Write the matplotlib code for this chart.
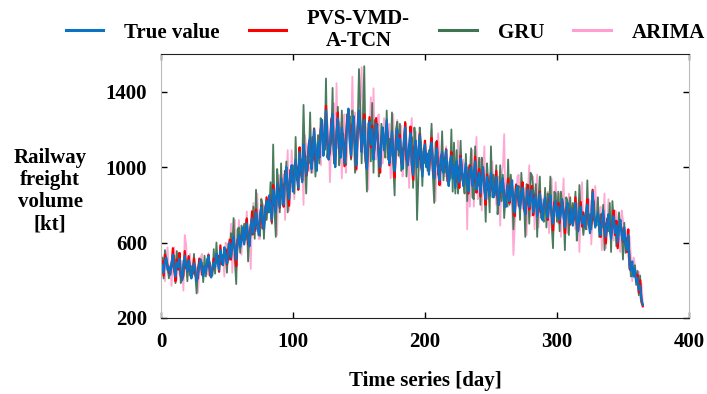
import numpy as np
import matplotlib.pyplot as plt

plt.rcParams['font.family'] = ['Liberation Serif', 'DejaVu Serif']
plt.rcParams['font.weight'] = 'bold'

# daily freight volume [kt] (days 1..365)
true_value = [
    480, 440, 505, 520, 455, 470, 430, 490, 535, 460,
    420, 495, 470, 515, 440, 400, 460, 530, 480, 445,
    505, 470, 410, 445, 490, 460, 395, 430, 480, 510,
    455, 420, 475, 440, 500, 530, 460, 415, 470, 495,
    470, 540, 500, 455, 560, 515, 480, 575, 530, 490,
    545, 600, 520, 585, 630, 560, 510, 590, 640, 575,
    610, 680, 590, 655, 700, 620, 580, 690, 730, 650,
    690, 760, 700, 640, 745, 790, 710, 670, 770, 820,
    760, 850, 790, 720, 880, 830, 760, 910, 850, 790,
    940, 860, 800, 950, 1000, 880, 830, 960, 1010, 870,
    930, 1040, 960, 890, 1080, 1000, 920, 1120, 1030, 960,
    1010, 1110, 1160, 990, 1060, 1200, 1080, 980, 1130, 1050,
    1180, 1250, 1060, 1130, 1300, 1170, 1040, 1100, 1220, 1280,
    1090, 1000, 1180, 1260, 1120, 1050, 1210, 1150, 1020, 1110,
    1230, 1310, 1140, 1060, 1200, 1270, 1100, 1010, 1180, 1300,
    1220, 1080, 1150, 1250, 1050, 990, 1160, 1240, 1120, 1200,
    1040, 1130, 1230, 1170, 1060, 1000, 1140, 1210, 1090, 1150,
    1250, 1130, 1020, 1080, 1190, 1060, 980, 1120, 1200, 1090,
    1150, 1040, 990, 1130, 1210, 1070, 1010, 1110, 1180, 1020,
    960, 1090, 1140, 1000, 1060, 1170, 1040, 950, 1080, 1120,
    1000, 1070, 960, 1090, 1130, 1010, 940, 1050, 1100, 990,
    930, 1040, 1080, 970, 1020, 1090, 960, 900, 1030, 1060,
    940, 1010, 890, 1030, 970, 920, 1050, 990, 900, 960,
    1020, 910, 870, 980, 1000, 900, 960, 1030, 880, 930,
    970, 860, 940, 1000, 880, 830, 950, 900, 850, 970,
    910, 840, 880, 950, 860, 800, 920, 870, 940, 830,
    790, 880, 910, 820, 860, 930, 800, 760, 870, 900,
    820, 780, 860, 890, 800, 750, 840, 880, 790, 830,
    880, 760, 820, 850, 740, 790, 860, 780, 720, 810,
    840, 770, 730, 800, 850, 750, 700, 790, 820, 740,
    790, 720, 760, 830, 740, 680, 770, 810, 730, 700,
    780, 690, 750, 810, 720, 660, 760, 790, 700, 740,
    680, 760, 800, 710, 650, 730, 870, 740, 680, 720,
    760, 690, 640, 720, 770, 680, 630, 700, 750, 670,
    620, 700, 740, 650, 690, 600, 670, 720, 640, 610,
    680, 590, 560, 640, 480, 450, 500, 420, 460, 390,
    410, 350, 370, 300, 270,
]

pvs_tcn = [
    500, 425, 535, 510, 480, 440, 440, 470, 570, 455,
    395, 510, 460, 545, 420, 405, 425, 555, 465, 465,
    525, 455, 440, 435, 515, 430, 405, 410, 515, 505,
    430, 435, 465, 470, 480, 535, 425, 440, 455, 515,
    490, 525, 530, 445, 585, 485, 490, 555, 565, 485,
    520, 615, 510, 615, 610, 565, 475, 615, 625, 595,
    630, 665, 620, 645, 725, 590, 590, 670, 765, 645,
    665, 775, 690, 670, 725, 795, 675, 695, 755, 840,
    780, 835, 820, 710, 905, 800, 770, 890, 885, 785,
    915, 875, 790, 980, 980, 885, 795, 985, 995, 890,
    950, 1025, 990, 880, 1105, 970, 930, 1100, 1065, 955,
    985, 1125, 1150, 1020, 1040, 1205, 1045, 1005, 1115, 1070,
    1200, 1235, 1090, 1120, 1325, 1140, 1050, 1080, 1255, 1275,
    1065, 1015, 1170, 1290, 1100, 1055, 1175, 1175, 1005, 1130,
    1250, 1295, 1170, 1050, 1225, 1240, 1110, 990, 1215, 1295,
    1195, 1095, 1140, 1280, 1030, 995, 1125, 1265, 1105, 1220,
    1060, 1115, 1260, 1160, 1085, 970, 1150, 1190, 1125, 1145,
    1225, 1145, 1010, 1110, 1170, 1065, 945, 1145, 1185, 1110,
    1170, 1025, 1020, 1120, 1235, 1040, 1020, 1090, 1215, 1015,
    935, 1105, 1130, 1030, 1040, 1175, 1005, 975, 1065, 1140,
    1020, 1055, 990, 1080, 1155, 980, 950, 1030, 1135, 985,
    905, 1055, 1070, 1000, 1000, 1095, 925, 925, 1015, 1080,
    960, 995, 920, 1020, 995, 890, 1060, 970, 935, 955,
    995, 925, 860, 1010, 980, 905, 925, 1055, 865, 950,
    990, 845, 970, 990, 905, 800, 960, 880, 885, 965,
    885, 855, 870, 980, 840, 805, 885, 895, 925, 850,
    810, 865, 940, 810, 885, 900, 810, 740, 905, 895,
    795, 795, 850, 920, 780, 755, 805, 905, 775, 850,
    900, 745, 850, 840, 765, 760, 870, 760, 755, 805,
    815, 785, 720, 830, 830, 755, 665, 815, 805, 760,
    810, 705, 790, 820, 765, 650, 780, 790, 765, 695,
    755, 705, 740, 840, 700, 665, 725, 815, 685, 760,
    700, 745, 830, 700, 675, 700, 880, 720, 715, 715,
    735, 705, 630, 750, 750, 685, 595, 725, 735, 690,
    640, 685, 770, 640, 715, 570, 680, 700, 675, 605,
    655, 605, 550, 670, 460, 455, 465, 445, 445, 410,
    430, 335, 400, 290, 262,
]

gru = [
    520, 410, 560, 500, 470, 410, 465, 495, 490, 530,
    385, 555, 455, 545, 385, 420, 505, 505, 490, 395,
    530, 425, 475, 435, 540, 430, 330, 470, 500, 495,
    495, 390, 530, 420, 515, 470, 495, 420, 425, 565,
    435, 600, 485, 485, 505, 535, 525, 550, 540, 440,
    595, 510, 650, 565, 730, 500, 380, 670, 680, 545,
    690, 620, 700, 615, 730, 500, 650, 700, 640, 790,
    620, 880, 670, 700, 635, 830, 800, 620, 790, 720,
    810, 760, 920, 700, 1120, 770, 630, 990, 890, 760,
    1020, 800, 910, 910, 1030, 760, 900, 970, 920, 1010,
    860, 1160, 930, 950, 970, 1040, 1010, 1330, 1050, 860,
    1060, 1020, 1290, 970, 1160, 1140, 950, 1060, 1170, 1020,
    1260, 1190, 1170, 1090, 1470, 1050, 1110, 1110, 1130, 1420,
    1020, 1120, 1150, 1320, 1010, 1090, 1300, 1100, 1040, 1010,
    1280, 1220, 1270, 1040, 1300, 1210, 970, 1090, 1220, 1520,
    1300, 1020, 1260, 1535, 1080, 870, 1230, 1250, 1030, 1340,
    970, 1250, 1200, 1230, 950, 1040, 1230, 1160, 1110, 1050,
    1300, 1040, 1150, 1060, 1290, 1000, 850, 1200, 1240, 1060,
    1230, 980, 1100, 1090, 1240, 950, 1080, 1120, 1090, 1160,
    890, 1210, 1110, 720, 950, 1210, 1130, 900, 1100, 1020,
    1050, 980, 1090, 1070, 1230, 950, 810, 1130, 1140, 960,
    1010, 980, 1190, 930, 1050, 970, 1030, 910, 940, 1200,
    870, 1130, 860, 1090, 860, 960, 1140, 940, 920, 860,
    1070, 820, 1000, 960, 1100, 840, 830, 1110, 920, 900,
    1050, 800, 1050, 960, 910, 710, 1020, 910, 760, 1110,
    840, 960, 850, 1010, 750, 840, 1010, 820, 960, 730,
    840, 790, 1040, 800, 960, 870, 670, 840, 910, 870,
    900, 720, 970, 850, 830, 630, 910, 890, 700, 970,
    958, 880, 790, 910, 630, 830, 950, 730, 740, 710,
    890, 680, 860, 780, 950, 690, 570, 870, 860, 710,
    870, 660, 870, 790, 770, 560, 840, 820, 640, 840,
    710, 810, 720, 870, 610, 700, 905, 740, 720, 640,
    730, 670, 930, 690, 750, 670, 740, 820, 720, 690,
    840, 630, 750, 680, 800, 560, 700, 710, 660, 810,
    550, 820, 710, 710, 580, 640, 760, 670, 660, 510,
    705, 545, 625, 630, 530, 420, 435, 460, 480, 375,
    450, 320, 425, 280, 272,
]

arima = [
    460, 515, 395, 520, 575, 425, 480, 370, 515, 575,
    490, 405, 545, 430, 505, 485, 345, 640, 595, 455,
    425, 540, 425, 425, 500, 460, 470, 335, 455, 520,
    540, 440, 470, 435, 430, 545, 475, 480, 480, 445,
    475, 505, 495, 515, 510, 530, 525, 420, 600, 570,
    550, 515, 700, 440, 565, 720, 450, 550, 720, 590,
    535, 680, 590, 620, 765, 640, 640, 460, 740, 810,
    710, 660, 860, 620, 620, 835, 680, 750, 800, 720,
    780, 830, 760, 820, 830, 820, 850, 640, 960, 930,
    850, 910, 960, 720, 930, 1090, 770, 870, 1090, 960,
    830, 1000, 950, 990, 1000, 1020, 1020, 800, 1170, 1110,
    1020, 980, 1210, 1080, 970, 1150, 1090, 1120, 1110, 1080,
    1010, 1250, 1160, 1090, 1240, 1240, 1190, 920, 1150, 1300,
    1340, 1060, 1445, 1100, 1240, 1210, 940, 1250, 1280, 970,
    1070, 1300, 1220, 1170, 1480, 1140, 1290, 980, 1060, 1260,
    1360, 1530, 1180, 1070, 1230, 1140, 880, 1200, 1370, 1070,
    1418, 1110, 1040, 1260, 1280, 1000, 1020, 1020, 1260, 1170,
    1210, 1220, 1230, 940, 1060, 1280, 950, 1020, 1250, 1150,
    1050, 1220, 950, 1020, 1240, 1150, 1090, 890, 1160, 1260,
    1080, 930, 1190, 1060, 980, 1150, 1060, 1080, 1080, 1030,
    1080, 1070, 980, 990, 1200, 1070, 1030, 820, 1100, 1180,
    1050, 900, 1140, 1000, 950, 1110, 980, 1000, 1030, 980,
    1020, 1010, 920, 920, 1140, 910, 940, 930, 1040, 980,
    1020, 670, 1010, 790, 960, 1090, 790, 1000, 1160, 830,
    890, 1040, 770, 970, 1110, 820, 850, 830, 950, 930,
    1030, 880, 940, 800, 930, 950, 690, 960, 1000, 1175,
    790, 860, 790, 940, 930, 800, 534, 680, 810, 950,
    960, 790, 880, 780, 870, 890, 640, 880, 1010, 740,
    790, 950, 670, 850, 960, 680, 810, 740, 830, 800,
    870, 810, 870, 650, 780, 940, 640, 740, 920, 770,
    700, 860, 630, 790, 940, 680, 700, 650, 860, 810,
    760, 750, 790, 670, 790, 810, 550, 800, 920, 650,
    700, 750, 670, 830, 820, 590, 750, 750, 900, 760,
    780, 730, 790, 560, 700, 860, 570, 670, 830, 700,
    630, 690, 610, 770, 760, 630, 620, 550, 770, 720,
    640, 665, 640, 520, 630, 525, 395, 520, 485, 435,
    370, 445, 305, 385, 285,
]

days = np.arange(1, len(true_value) + 1)

fig = plt.figure(figsize=(7.07, 3.94), dpi=100)
ax = fig.add_axes([0.2277, 0.1929, 0.7468, 0.6701])

l_ar, = ax.plot(days, arima, color='#FF9FCF', lw=1.3, alpha=0.9, label='ARIMA')
l_gru, = ax.plot(days, gru, color='#3F7553', lw=1.3, alpha=0.95, label='GRU')
l_pvs, = ax.plot(days, pvs_tcn, color='#FF0000', lw=1.6, label='PVS-VMD-\nA-TCN')
l_true, = ax.plot(days, true_value, color='#0B72C4', lw=1.6, label='True value')

ax.set_xlim(0, 400)
ax.set_ylim(200, 1600)
ax.set_xticks([0, 100, 200, 300, 400])
ax.set_yticks([200, 600, 1000, 1400])
ax.tick_params(direction='in', length=4, width=1, top=True, right=True,
               labelsize=15, pad=10)
for lab in ax.get_xticklabels() + ax.get_yticklabels():
    lab.set_fontweight('bold')

ax.spines['top'].set_color('#222222')
ax.spines['bottom'].set_color('#222222')
ax.spines['left'].set_color('#BBBBBB')
ax.spines['right'].set_color('#BBBBBB')

ax.set_xlabel('Time series [day]', fontsize=15, fontweight='bold', labelpad=14)
fig.text(50 / 707, 1 - 191 / 394, 'Railway\nfreight\nvolume\n[kt]', ha='center', va='center',
         fontsize=15, fontweight='bold', linespacing=1.15)

leg = fig.legend(handles=[l_true, l_pvs, l_gru, l_ar], loc='center', ncol=4,
                 bbox_to_anchor=(0.545, 1 - 30 / 394), frameon=False,
                 prop={'size': 15, 'weight': 'bold'}, handlelength=1.8,
                 handletextpad=1.0, columnspacing=1.4)
for line in leg.get_lines():
    line.set_linewidth(2.2)
    line.set_alpha(1)
for t in leg.get_texts():
    t.set_multialignment('center')

fig.savefig('out.png', dpi=100)
